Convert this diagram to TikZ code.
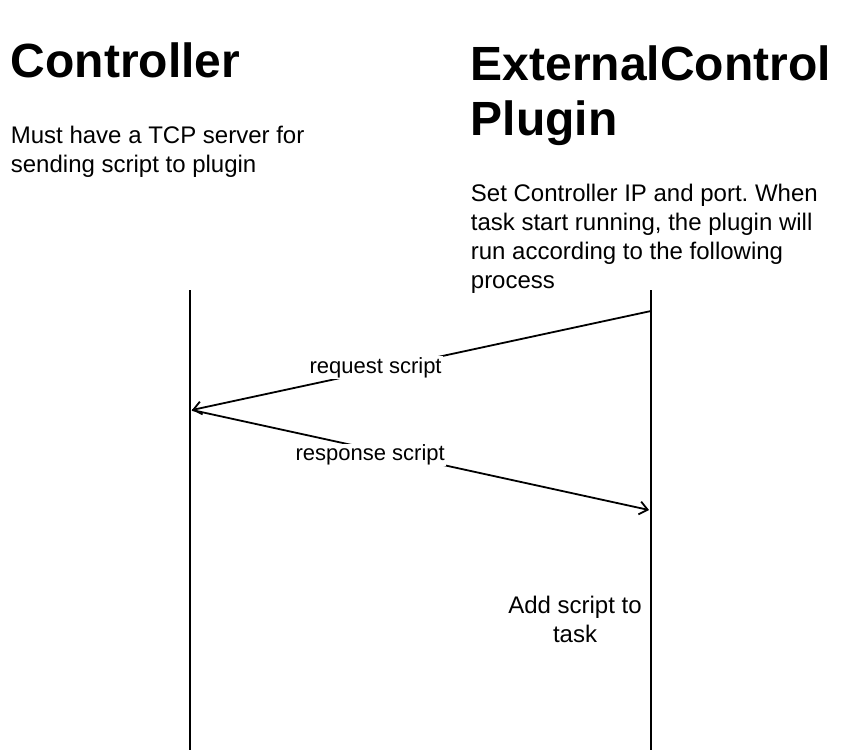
\documentclass[tikz,border=0pt]{standalone}
\usepackage{fontspec}
\setmainfont{Liberation Sans}
\usetikzlibrary{arrows.meta, positioning}
\frenchspacing

\begin{document}
\begin{tikzpicture}[x=1pt, y=-1pt, line width=1.8pt,
        heading/.style={font=\fontsize{48}{55}\selectfont\bfseries, align=left, inner sep=0pt, anchor=base west},
        note/.style={font=\fontsize{24}{29}\selectfont, align=left, inner sep=0pt, anchor=base west},
        msg/.style={font=\fontsize{22}{26}\selectfont, fill=white, inner sep=1pt},
        >={Straight Barb[length=8pt, width=13pt]}]
        \useasboundingbox (0,0) rectangle (842,752);

        % multi-line nodes sit on the baseline of their last line
        \node[heading] (ctrl) at (10,77) {Controller};
        \node[note] (ctrlnote) at (10,172) {Must have a TCP server for\\sending script to plugin};
        \node[heading] (plug) at (470,135) {ExternalControl\\Plugin};
        \node[note] (plugnote) at (470,288) {Set Controller IP and port. When\\task start running, the plugin will\\run according to the following\\process};

        % lifelines
        \coordinate (ctop) at (190,290);
        \coordinate (cbot) at (190,750);
        \coordinate (ptop) at (651,290);
        \coordinate (pbot) at (651,750);
        \draw (ctop) -- (cbot);
        \draw (ptop) -- (pbot);

        \coordinate (preq) at (651,311);
        \coordinate (creq) at (192,410);
        \coordinate (pres) at (649,510);

        \path[->]
        (preq) edge node[msg, pos=0.6, yshift=3pt] {request script} (creq)
        (creq) edge node[msg, pos=0.39, yshift=-6pt] {response script} (pres);

        \node[note, align=center, anchor=base] (add) at (575,642) {Add script to\\task};
    \end{tikzpicture}
\end{document}
